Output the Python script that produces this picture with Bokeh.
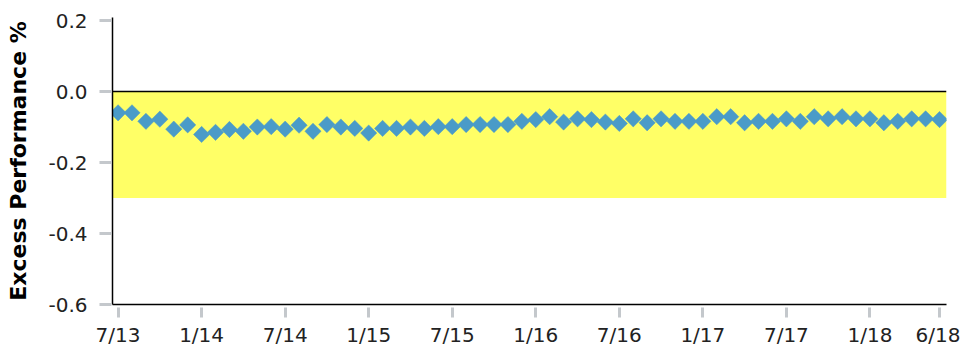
from math import pi
from bokeh.plotting import figure
from bokeh.models import BoxAnnotation, Span, FixedTicker, Range1d, ColumnDataSource
from bokeh.embed import file_html
from bokeh.resources import INLINE

# Monthly excess performance, 7/13 .. 6/18
month_index = list(range(60))
excess = [
    -0.060, -0.060, -0.084, -0.078, -0.106, -0.094, -0.121, -0.115, -0.107, -0.112,
    -0.100, -0.099, -0.106, -0.095, -0.112, -0.093, -0.100, -0.104, -0.117, -0.104,
    -0.104, -0.100, -0.104, -0.099, -0.099, -0.093, -0.093, -0.093, -0.093, -0.084,
    -0.079, -0.071, -0.086, -0.077, -0.079, -0.086, -0.090, -0.077, -0.088, -0.077,
    -0.084, -0.084, -0.084, -0.071, -0.071, -0.088, -0.084, -0.084, -0.077, -0.084,
    -0.071, -0.077, -0.071, -0.077, -0.077, -0.088, -0.084, -0.077, -0.077, -0.079,
]
tick_positions = [0, 6, 12, 18, 24, 30, 36, 42, 48, 54, 59]
tick_labels = ["7/13", "1/14", "7/14", "1/15", "7/15", "1/16", "7/16", "1/17", "7/17", "1/18", "6/18"]
y_ticks = [0.2, 0.0, -0.2, -0.4, -0.6]
y_tick_labels = ["0.2", "0.0", "-0.2", "-0.4", "-0.6"]
band_top = 0.0
band_bottom = -0.3

FONT = "DejaVu Sans"
TICK_GRAY = "#c4c8cc"

p = figure(width=960, height=349, output_backend="svg", toolbar_location=None,
           x_range=Range1d(-0.4, 59.5), y_range=Range1d(-0.6, 0.2085),
           min_border_left=112, min_border_right=14, min_border_top=17, min_border_bottom=45)
p.outline_line_color = None
p.grid.visible = False
p.background_fill_color = "white"

p.add_layout(BoxAnnotation(bottom=band_bottom, top=band_top, fill_color="#ffff66",
                           fill_alpha=1.0, line_color=None, level="underlay"))
p.add_layout(Span(location=0.0, dimension="width", line_color="black", line_width=1.5))

src = ColumnDataSource(dict(x=month_index, y=excess))
p.scatter("x", "y", source=src, marker="square", angle=pi / 4, size=11.5,
          fill_color="#4a9bc8", line_color="#4a9bc8", line_width=0.5)

xa = p.xaxis[0]
xa.ticker = FixedTicker(ticks=tick_positions)
xa.major_label_overrides = {t: l for t, l in zip(tick_positions, tick_labels)}
xa.minor_tick_line_color = None
xa.major_tick_line_color = TICK_GRAY
xa.major_tick_line_width = 3
xa.major_tick_in = -3
xa.major_tick_out = 13
xa.major_label_standoff = 5
xa.axis_line_color = "black"
xa.axis_line_width = 1.5
xa.major_label_text_font = FONT
xa.major_label_text_font_size = "20px"
xa.major_label_text_color = "#222222"

ya = p.yaxis[0]
ya.ticker = FixedTicker(ticks=y_ticks)
ya.major_label_overrides = {t: l for t, l in zip(y_ticks, y_tick_labels)}
ya.minor_tick_line_color = None
ya.major_tick_line_color = TICK_GRAY
ya.major_tick_line_width = 3
ya.major_tick_in = -1
ya.major_tick_out = 13
ya.major_label_standoff = 12
ya.axis_line_color = "black"
ya.axis_line_width = 1.5
ya.major_label_text_font = FONT
ya.major_label_text_font_size = "20px"
ya.major_label_text_color = "#222222"
ya.axis_label = "Excess Performance %"
ya.axis_label_text_font = FONT
ya.axis_label_text_font_style = "bold"
ya.axis_label_text_font_size = "22px"
ya.axis_label_text_color = "black"
ya.axis_label_standoff = 14

open("out.html", "w").write(file_html(p, INLINE))
